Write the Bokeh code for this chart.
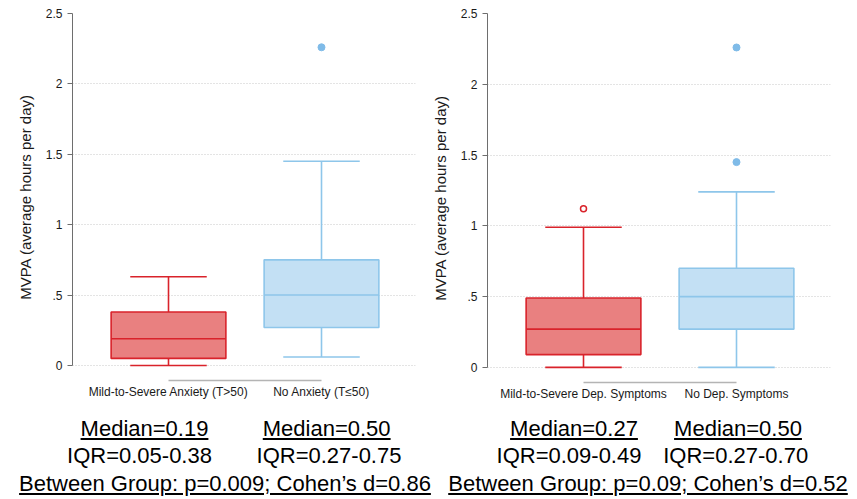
from bokeh.plotting import figure
from bokeh.models import Range1d, FixedTicker, Div
from bokeh.layouts import row, column
from bokeh.embed import file_html
from bokeh.resources import INLINE

# ---- data -------------------------------------------------------------
# Panel 1: anxiety groups
anx_labels = ["Mild-to-Severe Anxiety (T>50)", "No Anxiety (T\u226450)"]
anx_q1 = [0.05, 0.27]
anx_med = [0.19, 0.50]
anx_q3 = [0.38, 0.75]
anx_lo = [0.0, 0.06]
anx_hi = [0.63, 1.45]
anx_out = [[], [2.26]]

# Panel 2: depressive-symptom groups
dep_labels = ["Mild-to-Severe Dep. Symptoms", "No Dep. Symptoms"]
dep_q1 = [0.09, 0.27]
dep_med = [0.27, 0.50]
dep_q3 = [0.49, 0.70]
dep_lo = [0.0, 0.0]
dep_hi = [0.99, 1.24]
dep_out = [[1.12], [1.45, 2.26]]

y_ticks = [0, 0.5, 1, 1.5, 2, 2.5]
y_tick_text = ["0", ".5", "1", "1.5", "2", "2.5"]

anx_summary = ["Median=0.19", "IQR=0.05-0.38", "Median=0.50", "IQR=0.27-0.75",
               "Between Group: p=0.009; Cohen\u2019s d=0.86"]
dep_summary = ["Median=0.27", "IQR=0.09-0.49", "Median=0.50", "IQR=0.27-0.70",
               "Between Group: p=0.09; Cohen\u2019s d=0.52"]

# ---- styling ----------------------------------------------------------
FONT = "Liberation Sans"
LINE = ["#d9232b", "#8ec6ea"]
FILL = ["#e98080", "#c3e0f4"]
OUT_FILL = [None, "#7fbbe8"]


def box_panel(labels, q1, med, q3, lo, hi, outliers, border_left, border_top,
              border_right, border_bottom, frame_h):
    p = figure(frame_width=343, frame_height=frame_h,
               min_border_left=border_left, min_border_top=border_top,
               min_border_right=border_right, min_border_bottom=border_bottom,
               x_range=Range1d(0.3725, 2.6144), y_range=Range1d(-0.107, 2.5),
               output_backend="svg", toolbar_location=None,
               background_fill_color="white", border_fill_color="white")
    p.outline_line_color = None
    p.xgrid.visible = False

    xs = [1, 2]
    for i, x in enumerate(xs):
        # whiskers
        p.segment(x0=[x, x], y0=[q3[i], lo[i]], x1=[x, x], y1=[hi[i], q1[i]],
                  line_color=LINE[i], line_width=1.6)
        p.segment(x0=[x - 0.25, x - 0.25], y0=[hi[i], lo[i]],
                  x1=[x + 0.25, x + 0.25], y1=[hi[i], lo[i]],
                  line_color=LINE[i], line_width=1.6)
        # box and median
        p.vbar(x=[x], width=0.75, bottom=[q1[i]], top=[q3[i]],
               fill_color=FILL[i], line_color=LINE[i], line_width=1.6)
        p.segment(x0=[x - 0.375], y0=[med[i]], x1=[x + 0.375], y1=[med[i]],
                  line_color=LINE[i], line_width=1.6)
        # outliers
        if outliers[i]:
            if OUT_FILL[i] is None:
                p.scatter(x=[x] * len(outliers[i]), y=outliers[i], size=6,
                          fill_color="white", line_color=LINE[i], line_width=1.5)
            else:
                p.scatter(x=[x] * len(outliers[i]), y=outliers[i], size=7,
                          fill_color=OUT_FILL[i], line_color=OUT_FILL[i])

    # y axis
    ya = p.yaxis[0]
    ya.ticker = FixedTicker(ticks=y_ticks)
    ya.major_label_overrides = {t: s for t, s in zip(y_ticks, y_tick_text)}
    ya.bounds = (0, 2.5)
    ya.minor_tick_line_color = None
    ya.axis_line_color = "#6e6e6e"
    ya.major_tick_line_color = "#6e6e6e"
    ya.major_tick_out = 5
    ya.major_tick_in = 0
    ya.major_label_standoff = 5
    ya.major_label_text_font = FONT
    ya.major_label_text_font_size = "12px"
    ya.major_label_text_color = "#1a1a1a"
    ya.axis_label = "MVPA (average hours per day)"
    ya.axis_label_text_font = FONT
    ya.axis_label_text_font_size = "15px"
    ya.axis_label_text_font_style = "normal"
    ya.axis_label_text_color = "#1a1a1a"
    ya.axis_label_standoff = 9

    p.ygrid.ticker = FixedTicker(ticks=y_ticks)
    p.ygrid.grid_line_color = "#c8c8c8"
    p.ygrid.grid_line_dash = "1 2"
    p.ygrid.grid_line_width = 1

    # x axis
    xa = p.xaxis[0]
    xa.ticker = FixedTicker(ticks=xs)
    xa.major_label_overrides = {1: labels[0], 2: labels[1]}
    xa.bounds = (1, 2)
    xa.axis_line_color = "#b4b4b4"
    xa.axis_line_width = 1.5
    xa.major_tick_line_color = None
    xa.minor_tick_line_color = None
    xa.major_tick_out = 0
    xa.major_tick_in = 0
    xa.major_label_standoff = 4
    xa.major_label_text_font = FONT
    xa.major_label_text_font_size = "12px"
    xa.major_label_text_color = "#1a1a1a"
    return p


p1 = box_panel(anx_labels, anx_q1, anx_med, anx_q3, anx_lo, anx_hi, anx_out,
               72, 10, 13, 23, 367)
p2 = box_panel(dep_labels, dep_q1, dep_med, dep_q3, dep_lo, dep_hi, dep_out,
               57, 13, 29, 18, 369)


# ---- summary statistics beneath the panels ----------------------------
def stat_line(text, center_x, baseline, underline, width=500):
    top = baseline - 400 - 26.5
    deco = "underline" if underline else "none"
    return (f'<div style="position:absolute;left:{center_x - width / 2:.1f}px;'
            f'top:{top:.1f}px;width:{width}px;text-align:center;'
            f'white-space:nowrap;line-height:22px;font-size:22px;'
            f'text-decoration:{deco};text-underline-offset:2px;">{text}</div>')


items = [
    (anx_summary[0], 139.5, 436, True), (anx_summary[1], 134.5, 463, False),
    (anx_summary[2], 321.7, 436, True), (anx_summary[3], 324.0, 463, False),
    (anx_summary[4], 220.0, 491, True),
    (dep_summary[0], 569.0, 436, True), (dep_summary[1], 564.0, 463, False),
    (dep_summary[2], 733.0, 436, True), (dep_summary[3], 730.7, 463, False),
    (dep_summary[4], 643.0, 491, True),
]
html = ('<div style="position:relative;width:857px;height:99px;'
        f"font-family:'{FONT}',Arial,sans-serif;color:#000;\">"
        + "".join(stat_line(*it) for it in items) + "</div>")
stats = Div(text=html, width=857, height=99)

layout = column(row(p1, p2), stats)

with open("out.html", "w") as f:
    f.write(file_html(layout, INLINE))
